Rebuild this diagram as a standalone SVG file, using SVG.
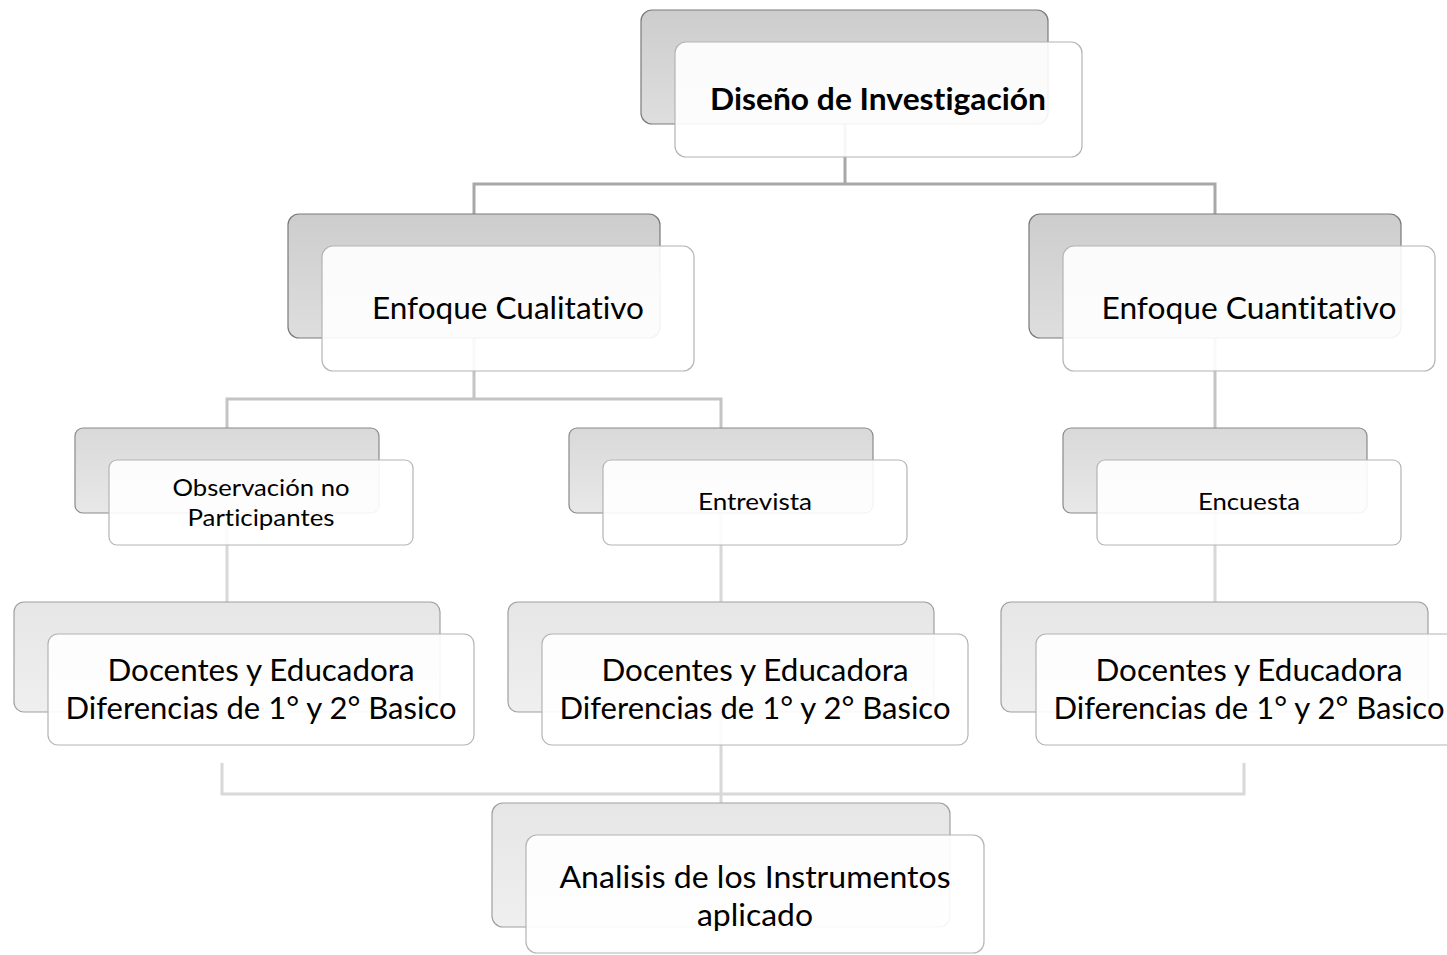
<svg xmlns="http://www.w3.org/2000/svg" width="1447" height="955" viewBox="0 0 1447 955">
<defs>
<linearGradient id="g1" x1="0" y1="0" x2="0" y2="1"><stop offset="0" stop-color="#cdcdcd"/><stop offset="1" stop-color="#dedede"/></linearGradient>
<linearGradient id="g3" x1="0" y1="0" x2="0" y2="1"><stop offset="0" stop-color="#d9d9d9"/><stop offset="1" stop-color="#e8e8e8"/></linearGradient>
<linearGradient id="g4" x1="0" y1="0" x2="0" y2="1"><stop offset="0" stop-color="#e6e6e6"/><stop offset="1" stop-color="#efefef"/></linearGradient>
</defs>
<style>
.b1{fill:url(#g1);stroke:#7a7a7a;stroke-width:1.2}
.b3{fill:url(#g3);stroke:#8a8a8a;stroke-width:1.2}
.b4{fill:url(#g4);stroke:#a0a0a0;stroke-width:1.2}
.f{fill:#ffffff;fill-opacity:0.9;stroke:#b4b4b4;stroke-width:1.2}
.c1{fill:none;stroke:#a8a8a8;stroke-width:3}
.c2{fill:none;stroke:#c4c4c4;stroke-width:3}
.c3{fill:none;stroke:#d8d8d8;stroke-width:3}
text{font-family:Lato,"Open Sans","Liberation Sans",sans-serif;fill:#000;text-anchor:middle;font-variant-ligatures:none}
.t30{font-size:31px}
.t22{font-size:23.5px}
.bold{font-weight:bold}
</style>
<g id="connectors">
<path class="c1" d="M845 124 V184 M474 214 V184 H1215 V214"/>
<path class="c2" d="M474 338 V399 M227 428 V399 H721 V428 M1215 338 V428"/>
<path class="c3" d="M227 513 V602 M721 513 V602 M1215 513 V602"/>
<path class="c3" d="M222 763 V794 H1244 V763 M721 712 V803"/>
</g>
<g id="n-diseno">
<rect class="b1" x="641" y="10" width="407" height="114" rx="11"/>
<rect class="f" x="675" y="42" width="407" height="115" rx="11"/>
<text class="t30 bold" x="878" y="110" textLength="336" lengthAdjust="spacingAndGlyphs">Diseño de Investigación</text>
</g>
<g id="n-cualitativo">
<rect class="b1" x="288" y="214" width="372" height="124" rx="11"/>
<rect class="f" x="322" y="246" width="372" height="125" rx="11"/>
<text class="t30" x="508" y="319" textLength="272" lengthAdjust="spacingAndGlyphs">Enfoque Cualitativo</text>
</g>
<g id="n-cuantitativo">
<rect class="b1" x="1029" y="214" width="372" height="124" rx="11"/>
<rect class="f" x="1063" y="246" width="372" height="125" rx="11"/>
<text class="t30" x="1249" y="319" textLength="295" lengthAdjust="spacingAndGlyphs">Enfoque Cuantitativo</text>
</g>
<g id="n-observacion">
<rect class="b3" x="75" y="428" width="304" height="85" rx="8"/>
<rect class="f" x="109" y="460" width="304" height="85" rx="8"/>
<text class="t22" x="261" y="496" textLength="177" lengthAdjust="spacingAndGlyphs">Observación no</text>
<text class="t22" x="261" y="526" textLength="147" lengthAdjust="spacingAndGlyphs">Participantes</text>
</g>
<g id="n-entrevista">
<rect class="b3" x="569" y="428" width="304" height="85" rx="8"/>
<rect class="f" x="603" y="460" width="304" height="85" rx="8"/>
<text class="t22" x="755" y="510" textLength="114" lengthAdjust="spacingAndGlyphs">Entrevista</text>
</g>
<g id="n-encuesta">
<rect class="b3" x="1063" y="428" width="304" height="85" rx="8"/>
<rect class="f" x="1097" y="460" width="304" height="85" rx="8"/>
<text class="t22" x="1249" y="510" textLength="102" lengthAdjust="spacingAndGlyphs">Encuesta</text>
</g>
<g id="n-docentes-1">
<rect class="b4" x="14" y="602" width="426" height="110" rx="10"/>
<rect class="f" x="48" y="634" width="426" height="111" rx="10"/>
<text class="t30" x="261" y="681" textLength="307" lengthAdjust="spacingAndGlyphs">Docentes y Educadora</text>
<text class="t30" x="261" y="719" textLength="391" lengthAdjust="spacingAndGlyphs">Diferencias de 1° y 2° Basico</text>
</g>
<g id="n-docentes-2">
<rect class="b4" x="508" y="602" width="426" height="110" rx="10"/>
<rect class="f" x="542" y="634" width="426" height="111" rx="10"/>
<text class="t30" x="755" y="681" textLength="307" lengthAdjust="spacingAndGlyphs">Docentes y Educadora</text>
<text class="t30" x="755" y="719" textLength="391" lengthAdjust="spacingAndGlyphs">Diferencias de 1° y 2° Basico</text>
</g>
<g id="n-docentes-3">
<rect class="b4" x="1001" y="602" width="427" height="110" rx="10"/>
<rect class="f" x="1036" y="634" width="426" height="111" rx="10"/>
<text class="t30" x="1249" y="681" textLength="307" lengthAdjust="spacingAndGlyphs">Docentes y Educadora</text>
<text class="t30" x="1249" y="719" textLength="391" lengthAdjust="spacingAndGlyphs">Diferencias de 1° y 2° Basico</text>
</g>
<g id="n-analisis">
<rect class="b4" x="492" y="803" width="458" height="124" rx="11"/>
<rect class="f" x="526" y="835" width="458" height="118" rx="11"/>
<text class="t30" x="755" y="888" textLength="391" lengthAdjust="spacingAndGlyphs">Analisis de los Instrumentos</text>
<text class="t30" x="755" y="926" textLength="116" lengthAdjust="spacingAndGlyphs">aplicado</text>
</g>
</svg>
